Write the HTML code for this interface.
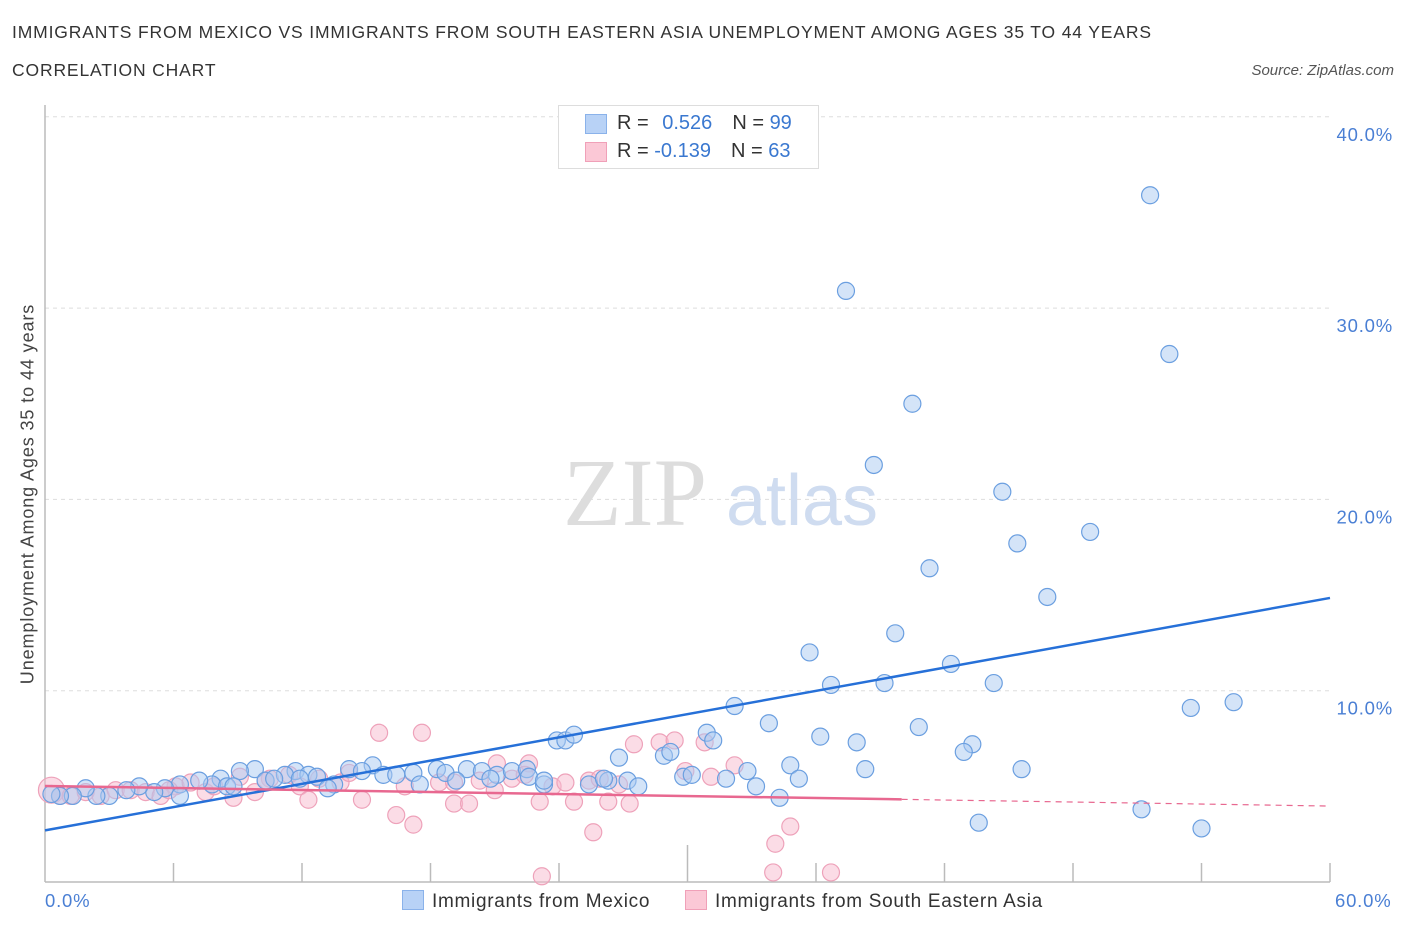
<!DOCTYPE html>
<html><head><meta charset="utf-8">
<style>
body{margin:0;background:#fff;font-family:"Liberation Sans",sans-serif;}
#wrap{position:relative;width:1406px;height:930px;}
.t{position:absolute;white-space:nowrap;}
</style></head>
<body>
<div id="wrap">
<div class="t" style="left:12px;top:22px;font-size:17.5px;letter-spacing:0.85px;color:#333;">IMMIGRANTS FROM MEXICO VS IMMIGRANTS FROM SOUTH EASTERN ASIA UNEMPLOYMENT AMONG AGES 35 TO 44 YEARS</div>
<div class="t" style="left:12px;top:60px;font-size:17.5px;letter-spacing:0.85px;color:#333;">CORRELATION CHART</div>
<div class="t" style="right:12px;top:62px;font-size:15px;color:#555;font-style:italic;">Source: ZipAtlas.com</div>
<svg id="svg" width="1406" height="930" style="position:absolute;left:0;top:0;"></svg>
</div>
<script>
const mexX=[37.4,51.6,52.5,40.5,38.7,44.7,48.8,45.4,41.3,46.8,39.7,35.7,42.3,36.7,39.2,44.3,53.5,55.5,32.2,40.8,33.8,36.2,37.9,43.3,42.9,30.9,31.2,23.9,24.3,24.7,26.8,28.9,29.2,34.8,32.8,38.3,45.6,29.8,30.2,31.8,35.2,25.4,26.3,27.2,27.7,33.2,34.3,43.6,51.2,54.0,15.3,14.2,14.8,15.8,16.4,17.2,18.3,18.7,19.7,20.4,21.1,21.8,22.5,23.3,22.6,9.8,9.1,11.7,11.2,12.3,12.7,10.3,10.7,13.5,13.2,8.2,7.8,8.5,6.3,5.6,5.1,4.4,3.8,3.0,2.4,1.9,1.3,0.7,0.3,6.3,8.8,7.2,11.9,17.5,19.2,20.8,23.3,26.1];
const mexY=[30.9,35.9,27.6,25.0,21.8,20.4,18.3,17.7,16.4,14.9,13.0,12.0,11.4,10.3,10.4,10.4,9.1,9.4,9.2,8.1,8.3,7.6,7.3,7.2,6.8,7.8,7.4,7.4,7.4,7.7,6.5,6.6,6.8,6.1,5.8,5.9,5.9,5.5,5.6,5.4,5.4,5.1,5.3,5.3,5.0,5.0,4.4,3.1,3.8,2.8,6.1,5.9,5.8,5.6,5.6,5.7,5.9,5.7,5.9,5.8,5.6,5.8,5.9,5.1,5.5,5.9,5.8,5.8,5.6,5.6,5.5,5.3,5.4,5.1,4.9,5.4,5.1,5.0,5.1,4.9,4.7,5.0,4.8,4.5,4.5,4.9,4.5,4.5,4.6,4.5,5.0,5.3,5.4,5.1,5.3,5.4,5.3,5.4];
const seaX=[0.3,0.7,1.2,1.9,2.6,3.3,4.0,4.7,5.4,6.1,6.8,7.5,7.9,8.8,9.1,9.8,10.5,11.4,11.9,12.3,12.8,13.8,14.2,14.8,15.6,16.4,16.8,17.2,17.6,18.4,19.1,19.8,20.3,21.1,21.8,22.6,23.1,23.7,24.3,24.7,25.4,25.6,26.3,26.8,27.3,27.5,28.7,29.4,29.9,30.8,31.1,32.2,34.1,34.8,34.0,36.7,23.2,21.0,19.1,22.4,25.9,5.8,10.3];
const seaY=[4.8,4.5,4.5,4.7,4.5,4.8,4.8,4.7,4.5,5.0,5.2,4.7,5.0,4.4,5.5,4.7,5.4,5.6,5.0,4.3,5.4,5.2,5.7,4.3,7.8,3.5,5.0,3.0,7.8,5.2,4.1,4.1,5.3,6.2,5.4,6.2,4.2,5.0,5.2,4.2,5.3,2.6,4.2,5.1,4.1,7.2,7.3,7.4,5.8,7.3,5.5,6.1,2.0,2.9,0.5,0.5,0.3,4.8,5.2,5.6,5.4,4.8,5.3];
const mexTrend=[2.7,14.85];
const seaTrend=[5.02,3.97];
const seaSolidEnd=40;
const yTicks=[10,20,30,40];
const yTickLabels=["10.0%","20.0%","30.0%","40.0%"];

const NS="http://www.w3.org/2000/svg";
const svg=document.getElementById('svg');
const X0=45,X1=1330,Y0=882,PY=19.13;
function sx(v){return X0+(v/60)*(X1-X0);}
function sy(v){return Y0-v*PY;}
function mk(tag,attrs,parent){const e=document.createElementNS(NS,tag);for(const k in attrs)e.setAttribute(k,attrs[k]);(parent||svg).appendChild(e);return e;}

yTicks.forEach((t,i)=>{
  const g=mk('line',{x1:X0,x2:X1,y1:sy(t),y2:sy(t),stroke:'#ddd','stroke-dasharray':'4,4'});
  
  
  const l=mk('text',{x:1393,y:sy(t)+24,'text-anchor':'end','font-size':18.5,'letter-spacing':0.8,fill:'#4a7fd4','font-family':'Liberation Sans'});
  l.textContent=yTickLabels[i];
  
  
});
const ax=mk('line',{x1:X0,x2:X1,y1:Y0,y2:Y0,stroke:'#bbb','stroke-width':1.5});


const ay=mk('line',{x1:X0,x2:X0,y1:105,y2:Y0,stroke:'#bbb','stroke-width':1.5});


for(let i=1;i<=10;i++){
  const tk=mk('line',{x1:sx(i*6),x2:sx(i*6),y1:Y0,y2:(i==5?845:863),stroke:'#bbb','stroke-width':1.5});
  
  
}
const w1=mk('text',{x:635,y:525,'text-anchor':'middle','font-size':96,fill:'#ddd','font-family':'Liberation Serif'});
w1.textContent='ZIP';


const w2=mk('text',{x:802,y:525,'text-anchor':'middle','font-size':72,fill:'#cfdcf0','font-family':'Liberation Sans'});
w2.textContent='atlas';



seaX.forEach((x,i)=>{
  const c=mk('circle',{cx:sx(x),cy:sy(seaY[i]),r:i==0?13:8.5,fill:'rgba(248,185,205,0.5)',stroke:'#eea2ba','stroke-width':1.2});
  
  
});
mexX.forEach((x,i)=>{
  const c=mk('circle',{cx:sx(x),cy:sy(mexY[i]),r:8.5,fill:'rgba(170,202,242,0.5)',stroke:'#6b9fe0','stroke-width':1.2});
  
  
});
const tb=mk('line',{x1:sx(0),y1:sy(mexTrend[0]),x2:sx(60),y2:sy(mexTrend[1]),stroke:'#2670d8','stroke-width':2.5});


const midY=seaTrend[0]+(seaTrend[1]-seaTrend[0])*seaSolidEnd/60;
const tp=mk('line',{x1:sx(0),y1:sy(seaTrend[0]),x2:sx(seaSolidEnd),y2:sy(midY),stroke:'#e86890','stroke-width':2.5});


const tpd=mk('line',{x1:sx(seaSolidEnd),y1:sy(midY),x2:sx(60),y2:sy(seaTrend[1]),stroke:'#e86890','stroke-width':1.2,'stroke-dasharray':'6,5'});


</script>
<div class="t" style="left:45px;top:890px;font-size:18.5px;letter-spacing:0.8px;color:#4a7fd4;">0.0%</div>
<div class="t" style="left:1335px;top:890px;font-size:18.5px;letter-spacing:0.8px;color:#4a7fd4;">60.0%</div>
<div class="t" style="left:28px;top:494px;font-size:18px;letter-spacing:0.9px;color:#444;transform:translate(-50%,-50%) rotate(-90deg);">Unemployment Among Ages 35 to 44 years</div>
<div style="position:absolute;left:558px;top:105px;width:259px;height:62px;border:1px solid #ddd;background:#fff;font-size:20px;">
  <div style="position:absolute;left:26px;top:8px;width:20px;height:18px;background:#b8d2f6;border:1px solid #8ab2ea;"></div>
  <div class="t" style="left:58px;top:6px;color:#333;">R = <span style="color:#3a78d0;margin-left:8px;">0.526</span><span style="margin-left:20px;">N = </span><span style="color:#3a78d0;">99</span></div>
  <div style="position:absolute;left:26px;top:36px;width:20px;height:18px;background:#fbc8d6;border:1px solid #f0a0b8;"></div>
  <div class="t" style="left:58px;top:34px;color:#333;">R = <span style="color:#3a78d0;">-0.139</span><span style="margin-left:20px;">N = </span><span style="color:#3a78d0;">63</span></div>
</div>
<div style="position:absolute;left:402px;top:890px;font-size:19px;letter-spacing:0.7px;color:#333;">
  <span style="display:inline-block;width:20px;height:18px;background:#b8d2f6;border:1px solid #8ab2ea;vertical-align:-3px;margin-right:8px;"></span>Immigrants from Mexico</div>
<div style="position:absolute;left:685px;top:890px;font-size:19px;letter-spacing:0.7px;color:#333;">
  <span style="display:inline-block;width:20px;height:18px;background:#fbc8d6;border:1px solid #f0a0b8;vertical-align:-3px;margin-right:8px;"></span>Immigrants from South Eastern Asia</div>
</body></html>
